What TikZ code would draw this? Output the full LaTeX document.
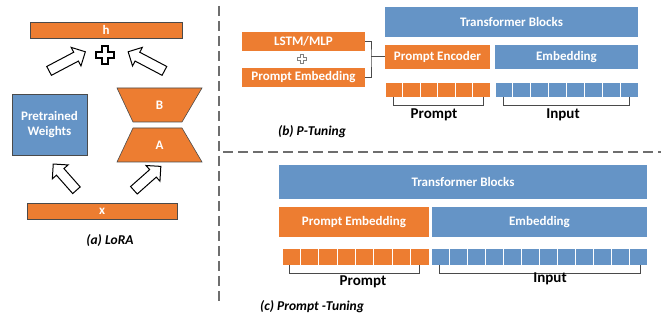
\documentclass[tikz,border=0pt]{standalone}
\usepackage{fontspec}
\setmainfont{Carlito}
\usetikzlibrary{shapes.arrows}
\definecolor{boxorange}{HTML}{ED7D31}
\definecolor{boxblue}{HTML}{6594C6}
\definecolor{linegray}{HTML}{4A4A4A}
\tikzset{
  obox/.style={fill=boxorange, text=white, font=\fontsize{13}{15}\selectfont\bfseries, inner sep=0pt},
  bbox/.style={fill=boxblue, text=white, font=\fontsize{13}{15}\selectfont\bfseries, inner sep=0pt},
  otok/.style={fill=boxorange, draw=white, line width=1pt, inner sep=0pt},
  btok/.style={fill=boxblue, draw=white, line width=1pt, inner sep=0pt},
  hollowarrow/.style={single arrow, draw=black, line width=1pt, fill=white, inner sep=4.5pt,
    minimum width=20pt, single arrow head extend=5.5pt, single arrow head indent=0pt},
  brace/.style={draw=linegray, line width=1pt},
  sep/.style={draw=linegray!80, line width=1.8pt, dash pattern=on 10pt off 5pt},
  caption/.style={font=\fontsize{13.5}{15}\selectfont\bfseries\itshape},
  tokname/.style={font=\fontsize{15}{17}\selectfont\bfseries}
}
\begin{document}
\begin{tikzpicture}[x=1pt,y=-1pt]
  \useasboundingbox (0,0) rectangle (661,320);

  % separators
  \draw[sep] (219,6) -- (219,304);
  \draw[sep] (223,152) -- (661,152);

  % (a) LoRA
  \node[obox, draw=linegray, line width=0.8pt, minimum width=152pt, minimum height=16pt] (hbar) at (106,30) {h};
  \node[obox, draw=linegray, line width=0.8pt, minimum width=150pt, minimum height=16pt] (xbar) at (102,211) {x};
  \node[bbox, draw=linegray, line width=0.8pt, minimum width=75pt, minimum height=61pt, align=center] (pw) at (49.5,124.5) {Pretrained\\Weights};
  \fill[boxorange, draw=linegray, line width=0.6pt] (117,88) -- (202,88) -- (182,122) -- (133,122) -- cycle;
  \node[text=white, font=\fontsize{13}{15}\selectfont\bfseries] (matb) at (159.5,105) {B};
  \fill[boxorange, draw=linegray, line width=0.6pt] (133,128) -- (182,128) -- (202,162) -- (117,162) -- cycle;
  \node[text=white, font=\fontsize{13}{15}\selectfont\bfseries] (mata) at (159.5,145) {A};
  \draw[line width=1.2pt, fill=white]
    (102,46) -- (108,46) -- (108,52) -- (114,52) -- (114,58) -- (108,58) -- (108,64)
    -- (102,64) -- (102,58) -- (96,58) -- (96,52) -- (102,52) -- cycle;
  \node[hollowarrow, minimum height=41pt, rotate=27.8] (arrul) at (65,62.5) {};
  \node[hollowarrow, minimum height=41pt, rotate=152.2] (arrur) at (148.5,62.5) {};
  \node[hollowarrow, minimum height=35pt, rotate=131.5] (arrll) at (66.5,179) {};
  \node[hollowarrow, minimum height=36pt, rotate=41.6] (arrlr) at (145.5,180) {};
  \node[caption] (capa) at (110,241) {(a) LoRA};

  % (b) P-Tuning
  \node[bbox, minimum width=253pt, minimum height=30pt] (tfb) at (511.5,22) {Transformer Blocks};
  \node[obox, minimum width=123pt, minimum height=19pt] (lstm) at (303.5,41.5) {LSTM/MLP};
  \node[obox, minimum width=123pt, minimum height=19pt] (pembb) at (303.5,77.5) {Prompt Embedding};
  \draw[line width=1pt, draw=linegray!70, fill=white]
    (300.5,55) -- (303.5,55) -- (303.5,58) -- (306.5,58) -- (306.5,61) -- (303.5,61) -- (303.5,64)
    -- (300.5,64) -- (300.5,61) -- (297.5,61) -- (297.5,58) -- (300.5,58) -- cycle;
  \node[obox, minimum width=105pt, minimum height=24pt] (penc) at (437.5,57) {Prompt Encoder};
  \node[bbox, minimum width=143pt, minimum height=24pt] (embb) at (566.5,57) {Embedding};
  \coordinate (joint) at (371,57);
  \draw[brace] (lstm.east) -| (joint) |- (pembb.east);
  \draw[brace] (joint) -- (penc.west);
  \foreach \i in {0,...,5}
    \node[otok, minimum width=17.5pt, minimum height=15pt] (bp\i) at ({385+17.5*\i+8.75},90) {};
  \foreach \i in {0,...,7}
    \node[btok, minimum width=17.875pt, minimum height=15pt] (bi\i) at ({495+17.875*\i+8.94},90) {};
  \draw[brace] (393,97) -- (393,106) -- (483,106) -- (483,97);
  \draw[brace] (503,97) -- (503,106) -- (629,106) -- (629,97);
  \node[tokname] (bpl) at (434,115) {Prompt};
  \node[tokname] (bil) at (563,115) {Input};
  \node[caption] (capb) at (312,132) {(b) P-Tuning};

  % (c) Prompt-Tuning
  \node[bbox, minimum width=368pt, minimum height=34pt] (tfc) at (463,182) {Transformer Blocks};
  \node[obox, minimum width=150pt, minimum height=30pt] (pembc) at (354,222) {Prompt Embedding};
  \node[bbox, minimum width=215pt, minimum height=30pt] (embc) at (539.5,222) {Embedding};
  \foreach \i in {0,...,7}
    \node[otok, minimum width=18.375pt, minimum height=17pt] (cp\i) at ({282+18.375*\i+9.19},257) {};
  \foreach \i in {0,...,11}
    \node[btok, minimum width=18.08pt, minimum height=17pt] (ci\i) at ({431+18.08*\i+9.04},257) {};
  \draw[brace] (289,265) -- (289,274) -- (419,274) -- (419,265);
  \draw[brace] (439,265) -- (439,274) -- (640,274) -- (640,265);
  \node[tokname] (cpl) at (363,282) {Prompt};
  \node[tokname] (cil) at (550,279) {Input};
  \node[caption] (capc) at (312,307) {(c) Prompt -Tuning};
\end{tikzpicture}
\end{document}
